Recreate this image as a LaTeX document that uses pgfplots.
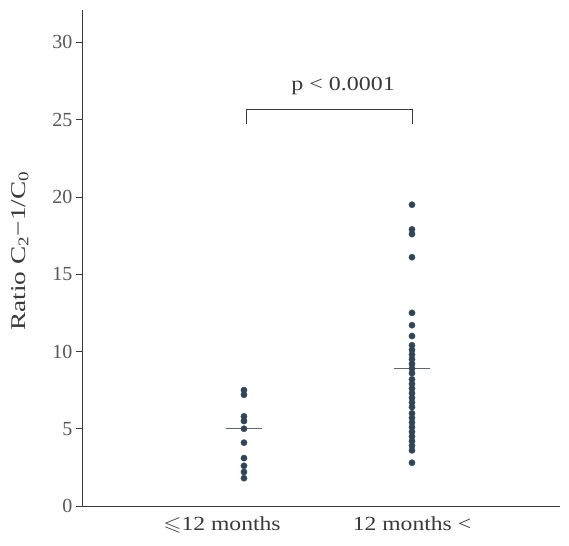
\documentclass[border=0pt]{standalone}
\usepackage{amssymb}
\usepackage{pgfplots}
\pgfplotsset{compat=1.18}
\usepackage{fontspec}
\setmainfont{Liberation Serif}
\definecolor{dotc}{HTML}{2F4658}
\definecolor{axc}{HTML}{3A3A3A}
\definecolor{medc}{HTML}{5A6670}

\begin{document}
\begin{tikzpicture}
  \begin{axis}[
    scale only axis,
    width=478pt, height=496pt,
    xmin=0.036, xmax=2.881,
    ymin=0, ymax=32.1,
    axis lines=left,
    axis line style={-, axc, line width=0.8pt},
    % left label sits a little left of its column in the original
    xtick={0.869,2},
    xticklabels={{\scalebox{1.18}[1]{$\leqslant$12 months}},
                 {\scalebox{1.18}[1]{12 months <}}},
    x tick style={draw=none},
    xticklabel style={font=\fontsize{20}{20}\selectfont, text=axc, yshift=-1pt},
    ytick={0,5,...,30},
    y tick style={axc, line width=0.8pt},
    tick align=outside,
    major tick length=6pt,
    yticklabel style={font=\fontsize{20}{20}\selectfont, text=axc!85},
    /pgf/number format/assume math mode=true,
    ylabel={\scalebox{1.3}[1]{Ratio C\textsubscript{2}−1/C\textsubscript{0}}},
    ylabel style={at={(axis description cs:-0.13,0.514)}, anchor=center,
                  font=\fontsize{21}{21}\selectfont, text=axc},
    clip=false,
  ]
    % group <= 12 months
    \addplot[only marks, mark=*, mark size=3.1pt, dotc] coordinates {
      (1,7.5) (1,7.2) (1,5.8) (1,5.5) (1,5.0) (1,4.1)
      (1,3.1) (1,2.6) (1,2.2) (1,1.8)
    };
    % group 12 months <
    \addplot[only marks, mark=*, mark size=3.1pt, dotc] coordinates {
      (2,19.5) (2,17.9) (2,17.6) (2,16.1) (2,12.5) (2,11.7) (2,11.0)
      (2,10.4) (2,10.1) (2,9.8) (2,9.5) (2,9.2) (2,8.9) (2,8.6)
      (2,8.2) (2,7.9) (2,7.6) (2,7.3) (2,7.0) (2,6.7) (2,6.4)
      (2,6.0) (2,5.7) (2,5.4) (2,5.1) (2,4.8) (2,4.5) (2,4.2)
      (2,3.9) (2,3.6) (2,2.8)
    };
    % medians
    \addplot[medc, line width=1.2pt] coordinates {(0.893,5.0) (1.107,5.0)};
    \addplot[medc, line width=1.2pt] coordinates {(1.893,8.9) (2.107,8.9)};
    % bracket
    \addplot[axc, line width=0.9pt] coordinates {
      (1.012,24.7) (1.012,25.65) (2.0,25.65) (2.0,24.7)
    };
    \node[font=\fontsize{20}{20}\selectfont, text=axc] at (axis cs:1.59,27.2)
      {\scalebox{1.2}[1]{p < 0.0001}};
  \end{axis}
  \path ([xshift=-82pt,yshift=-40pt]current axis.south west)
        rectangle ([xshift=9pt,yshift=10pt]current axis.north east);
\end{tikzpicture}
\end{document}
